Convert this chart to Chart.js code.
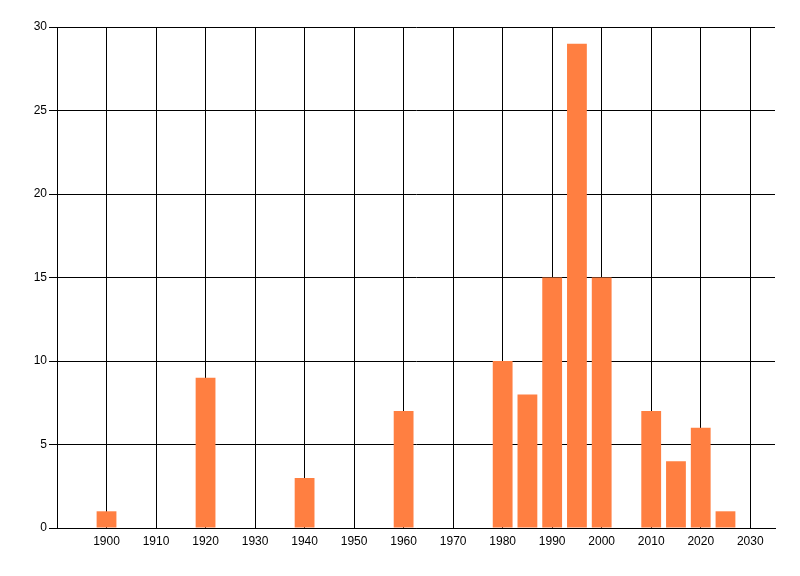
<!DOCTYPE html>
<html>
<head>
<meta charset="utf-8">
<script src="https://cdn.jsdelivr.net/npm/chart.js@4/dist/chart.umd.min.js"></script>
<style>
html,body{margin:0;padding:0;background:#fff;}
#wrap{width:800px;height:576px;}
</style>
</head>
<body>
<div id="wrap"><canvas id="c" width="800" height="576"></canvas></div>
<script>
const years = [1900, 1920, 1940, 1960, 1980, 1985, 1990, 1995, 2000, 2010, 2015, 2020, 2025];
const counts = [1, 9, 3, 7, 10, 8, 15, 29, 15, 7, 4, 6, 1];
const xMin = 1890, xMax = 2035, xStep = 10;
const yMin = 0, yMax = 30, yStep = 5;

const points = years.map((y, i) => ({x: y, y: counts[i]}));
const FONT = "'Liberation Sans Narrow', 'Liberation Sans', Arial, sans-serif";

new Chart(document.getElementById('c'), {
  type: 'bar',
  data: {
    datasets: [{
      data: points,
      backgroundColor: '#ff7f41',
      borderWidth: 0,
      categoryPercentage: 1.0,
      barPercentage: 0.8
    }]
  },
  options: {
    responsive: false,
    devicePixelRatio: 1,
    animation: false,
    layout: {padding: {top: 27, right: 25, left: 0, bottom: 0}},
    plugins: {legend: {display: false}, tooltip: {enabled: false}},
    scales: {
      x: {
        type: 'linear',
        min: xMin, max: xMax,
        offset: false,
        afterFit: s => { s.height = 48; },
        grid: {
          color: ctx => (ctx.tick && ctx.tick.value % xStep === 0 ? '#000' : 'rgba(0,0,0,0)'),
          lineWidth: 1, drawTicks: false, offset: false
        },
        border: {color: '#000', width: 1},
        ticks: {
          stepSize: xStep,
          includeBounds: false,
          autoSkip: false,
          maxRotation: 0,
          padding: 6,
          color: '#000',
          font: {family: FONT, size: 12},
          callback: v => (v === xMin || v % xStep !== 0 ? '' : String(v))
        }
      },
      y: {
        min: yMin, max: yMax,
        afterFit: s => { s.width = 57; },
        grid: {color: '#000', lineWidth: 1, drawTicks: true, tickLength: 8},
        border: {color: '#000', width: 1},
        ticks: {
          stepSize: yStep,
          padding: 2,
          color: '#000',
          font: {family: FONT, size: 12}
        }
      }
    }
  }
});
</script>
</body>
</html>
